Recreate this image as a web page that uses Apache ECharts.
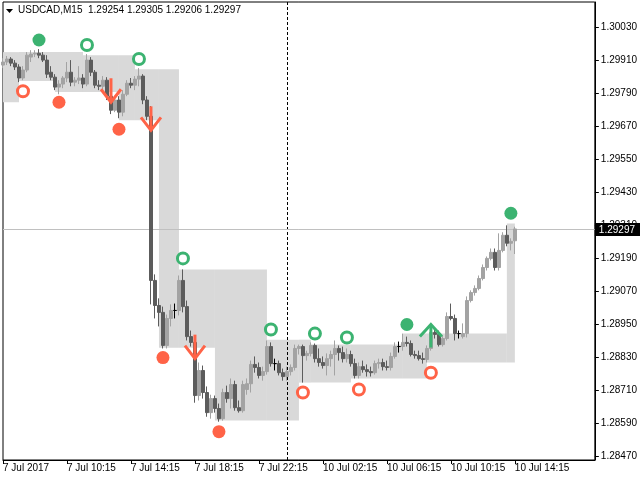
<!DOCTYPE html>
<html><head><meta charset="utf-8">
<script src="https://cdn.jsdelivr.net/npm/echarts@6/dist/echarts.min.js"></script>
<style>html,body{margin:0;padding:0;background:#fff}#c{width:640px;height:480px}</style>
</head><body><div id="c"></div>
<script>
const symbolName = 'USDCAD';
const timeframe = 'M15';
// [open, high, low, close] per M15 bar, 7 Jul 2017 06:15 -> 10 Jul 2017 14:15
const ohlc = [
[1.29892,1.29917,1.29881,1.29903],[1.29903,1.29925,1.29892,1.29914],[1.29914,1.29921,1.29888,1.29899],[1.29899,1.29910,1.29874,1.29885],
[1.29885,1.29895,1.29830,1.29845],[1.29845,1.29888,1.29837,1.29874],[1.29874,1.29939,1.29866,1.29928],[1.29921,1.29946,1.29903,1.29932],
[1.29932,1.29946,1.29921,1.29935],[1.29935,1.29950,1.29917,1.29928],[1.29928,1.29939,1.29903,1.29910],[1.29910,1.29928,1.29845,1.29859],
[1.29866,1.29888,1.29837,1.29848],[1.29848,1.29859,1.29801,1.29812],[1.29812,1.29837,1.29786,1.29823],[1.29823,1.29852,1.29808,1.29845],
[1.29845,1.29903,1.29830,1.29866],[1.29866,1.29910,1.29815,1.29830],[1.29830,1.29848,1.29815,1.29837],[1.29837,1.29888,1.29823,1.29845],
[1.29845,1.29859,1.29808,1.29823],[1.29823,1.29932,1.29815,1.29910],[1.29910,1.29921,1.29852,1.29866],[1.29866,1.29874,1.29808,1.29819],
[1.29819,1.29837,1.29801,1.29815],[1.29815,1.29852,1.29801,1.29837],[1.29837,1.29848,1.29765,1.29779],[1.29779,1.29808,1.29714,1.29728],
[1.29728,1.29772,1.29721,1.29765],[1.29765,1.29779,1.29699,1.29721],[1.29721,1.29801,1.29706,1.29786],[1.29786,1.29837,1.29779,1.29826],
[1.29826,1.29845,1.29808,1.29819],[1.29819,1.29852,1.29801,1.29841],[1.29841,1.29881,1.29815,1.29852],[1.29852,1.29859,1.29750,1.29765],
[1.29765,1.29779,1.29692,1.29706],[1.29706,1.29743,1.29023,1.29110],[1.29110,1.29132,1.28972,1.29019],[1.29019,1.29045,1.28943,1.28994],
[1.28994,1.29015,1.28863,1.28874],[1.28874,1.28986,1.28863,1.28972],[1.28972,1.29023,1.28943,1.29001],[1.29001,1.29026,1.28972,1.29001],
[1.29001,1.29128,1.28983,1.29110],[1.29110,1.29150,1.28994,1.29015],[1.29015,1.29037,1.28892,1.28906],[1.28906,1.28928,1.28870,1.28885],
[1.28885,1.28899,1.28666,1.28692],[1.28692,1.28812,1.28674,1.28783],[1.28783,1.28801,1.28681,1.28703],[1.28703,1.28725,1.28615,1.28630],
[1.28630,1.28695,1.28608,1.28681],[1.28681,1.28692,1.28630,1.28645],[1.28645,1.28663,1.28597,1.28608],[1.28608,1.28717,1.28601,1.28703],
[1.28703,1.28728,1.28666,1.28681],[1.28681,1.28754,1.28645,1.28732],[1.28732,1.28746,1.28637,1.28648],[1.28648,1.28674,1.28630,1.28637],
[1.28637,1.28746,1.28630,1.28732],[1.28714,1.28754,1.28695,1.28735],[1.28735,1.28819,1.28703,1.28805],[1.28805,1.28834,1.28775,1.28794],
[1.28794,1.28812,1.28754,1.28765],[1.28765,1.28797,1.28746,1.28779],[1.28779,1.28892,1.28768,1.28870],[1.28870,1.28885,1.28797,1.28808],
[1.28808,1.28826,1.28783,1.28808],[1.28808,1.28819,1.28765,1.28775],[1.28775,1.28790,1.28746,1.28761],[1.28761,1.28797,1.28746,1.28779],
[1.28779,1.28805,1.28765,1.28794],[1.28794,1.28877,1.28783,1.28863],[1.28863,1.28877,1.28841,1.28870],[1.28870,1.28877,1.28739,1.28837],
[1.28837,1.28855,1.28819,1.28845],[1.28845,1.28885,1.28834,1.28874],[1.28874,1.28881,1.28812,1.28826],[1.28826,1.28863,1.28797,1.28812],
[1.28812,1.28834,1.28790,1.28801],[1.28801,1.28845,1.28765,1.28826],[1.28826,1.28855,1.28797,1.28841],[1.28841,1.28892,1.28765,1.28863],
[1.28863,1.28874,1.28819,1.28848],[1.28848,1.28870,1.28812,1.28826],[1.28826,1.28863,1.28812,1.28841],[1.28841,1.28855,1.28797,1.28808],
[1.28808,1.28826,1.28754,1.28765],[1.28765,1.28812,1.28754,1.28797],[1.28797,1.28819,1.28775,1.28786],[1.28786,1.28805,1.28761,1.28779],
[1.28779,1.28797,1.28761,1.28775],[1.28775,1.28819,1.28768,1.28808],[1.28808,1.28826,1.28790,1.28812],[1.28812,1.28826,1.28783,1.28797],
[1.28797,1.28819,1.28783,1.28794],[1.28794,1.28848,1.28783,1.28834],[1.28834,1.28885,1.28826,1.28870],[1.28870,1.28888,1.28848,1.28870],
[1.28870,1.28917,1.28855,1.28885],[1.28885,1.28906,1.28870,1.28881],[1.28881,1.28892,1.28834,1.28841],[1.28841,1.28855,1.28826,1.28837],
[1.28837,1.28855,1.28819,1.28826],[1.28826,1.28848,1.28808,1.28823],[1.28823,1.28874,1.28812,1.28863],[1.28863,1.28935,1.28855,1.28921],
[1.28921,1.28935,1.28899,1.28914],[1.28914,1.28928,1.28870,1.28877],[1.28877,1.28910,1.28870,1.28899],[1.28899,1.28994,1.28892,1.28979],
[1.28979,1.29026,1.28965,1.28972],[1.28972,1.28986,1.28892,1.28917],[1.28917,1.28928,1.28899,1.28917],[1.28906,1.28954,1.28899,1.28917],
[1.28917,1.29052,1.28903,1.29037],[1.29037,1.29074,1.29030,1.29066],[1.29066,1.29092,1.29055,1.29081],[1.29081,1.29128,1.29074,1.29117],
[1.29117,1.29168,1.29110,1.29157],[1.29157,1.29197,1.29146,1.29190],[1.29190,1.29226,1.29183,1.29212],[1.29212,1.29226,1.29146,1.29157],
[1.29157,1.29281,1.29146,1.29219],[1.29219,1.29285,1.29212,1.29274],[1.29274,1.29310,1.29234,1.29245],[1.29245,1.29263,1.29219,1.29252],
[1.29254,1.29305,1.29206,1.29297]
];
const totalSlots = 149;           // bars + empty chart shift on the right
const tickBars = [0,16,32,48,64,80,96,112,128];
const tickLabels = ['7 Jul 2017','7 Jul 10:15','7 Jul 14:15','7 Jul 18:15','7 Jul 22:15','10 Jul 02:15','10 Jul 06:15','10 Jul 10:15','10 Jul 14:15'];
const yTicks = [1.28470,1.28590,1.28710,1.28830,1.28950,1.29070,1.29190,1.29310,1.29430,1.29550,1.29670,1.29790,1.29910,1.30030];
const yMin = 1.28458, yMax = 1.30121;
const separatorBar = 71;          // 10 Jul 00:00
// zones: [fromBar, toBar, top, bottom]
const zones = [
[0,4,1.29939,1.29757],[4,13,1.29939,1.29834],[13,20,1.29939,1.29794],[20,29,1.29928,1.29794],
[29,33,1.29928,1.29692],[33,39,1.29877,1.29692],[39,44,1.29877,1.28866],[44,53,1.29150,1.28866],
[53,66,1.29150,1.28601],[66,74,1.28895,1.28601],[74,77,1.28895,1.28739],[77,87,1.28877,1.28739],
[87,100,1.28877,1.28754],[100,106,1.28917,1.28754],[106,126,1.28917,1.28812],[126,128,1.29317,1.28812]
];
const greenDots = [[9,1.29983],[101,1.28950],[127,1.29354]];
const greenRings = [[21,1.29965],[34,1.29914],[45,1.29190],[67,1.28932],[78,1.28917],[86,1.28903]];
const redDots = [[14,1.29757],[29,1.29659],[40,1.28830],[54,1.28561]];
const redRings = [[5,1.29797],[75,1.28703],[89,1.28714],[107,1.28775]];
const sellArrows = [[27,1.29757],[37,1.29655],[48,1.28826]];
const buyArrows = [[107,1.28950]];

const FONT = "'Liberation Sans', Arial, sans-serif";
const GREEN = '#3cb371', RED = '#ff6347';
const last = ohlc[ohlc.length - 1];
const lastClose = last[3];

const categories = Array.from({length: totalSlots}, (_, i) => String(i));
const tickSet = new Set(tickBars);
const candleData = ohlc.map(([o,h,l,c]) => [o,c,l,h]);

function arrowItem(dir) {
  return function (params, api) {
    const p = api.coord([api.value(0), api.value(1)]);
    const x = p[0], y = p[1];
    const s = { stroke: dir < 0 ? RED : GREEN, lineWidth: 3, fill: null, lineJoin: 'miter' };
    const stem = dir < 0 ? [[x, y - 24], [x, y - 1]] : [[x, y + 1], [x, y + 23]];
    const head = dir < 0 ? [[x - 10, y - 13], [x, y], [x + 10, y - 13]] : [[x - 11, y + 12], [x, y], [x + 11, y + 12]];
    return { type: 'group', children: [
      { type: 'polyline', shape: { points: stem }, style: s },
      { type: 'polyline', shape: { points: head }, style: s }
    ]};
  };
}

const chart = echarts.init(document.getElementById('c'), null, { renderer: 'canvas' });
chart.setOption({
  animation: false,
  backgroundColor: '#fff',
  grid: { left: 2, right: 43, top: 2, bottom: 20, show: true, borderColor: '#000', borderWidth: 1, backgroundColor: 'transparent' },
  xAxis: {
    type: 'category', data: categories, boundaryGap: false,
    axisLine: { show: true, lineStyle: { color: '#000' } },
    axisTick: { show: true, length: 4, lineStyle: { color: '#000' }, interval: (i) => tickSet.has(i) },
    axisLabel: {
      interval: (i) => tickSet.has(i), align: 'left', margin: 3,
      fontFamily: FONT, fontSize: 10, color: '#000',
      formatter: (v) => { const k = tickBars.indexOf(Number(v)); return k >= 0 ? tickLabels[k] : ''; }
    },
    splitLine: { show: false }
  },
  yAxis: {
    type: 'value', position: 'right', min: yMin, max: yMax, scale: true,
    axisLine: { show: true, lineStyle: { color: '#000' } },
    axisTick: { show: true, inside: false, length: 4, lineStyle: { color: '#000' }, customValues: yTicks },
    axisLabel: { customValues: yTicks, margin: 6, fontFamily: FONT, fontSize: 10, color: '#000', formatter: (v) => v.toFixed(5) },
    splitLine: { show: false }
  },
  graphic: [
    { type: 'polygon', shape: { points: [[6, 9], [13, 9], [9.5, 13]] }, style: { fill: '#000' }, z: 100 },
    { type: 'text', left: 18, top: 5, z: 100,
      style: { text: symbolName + ',' + timeframe + '  ' + last.map(v => v.toFixed(5)).join(' '), font: '10px ' + FONT, fill: '#000' } }
  ],
  series: [
    {
      type: 'custom', name: 'zones', z: 1, silent: true, clip: true,
      data: zones, encode: { x: [0, 1], y: [2, 3] },
      renderItem: (params, api) => {
        const p0 = api.coord([api.value(0), api.value(2)]);
        const p1 = api.coord([api.value(1), api.value(3)]);
        return { type: 'rect', shape: { x: p0[0], y: p0[1], width: p1[0] - p0[0], height: p1[1] - p0[1] }, style: { fill: '#d9d9d9' } };
      }
    },
    {
      type: 'custom', name: 'separator', z: 2, silent: true,
      data: [[separatorBar, yMin]], encode: { x: 0, y: 1 },
      renderItem: (params, api) => {
        const x = Math.round(api.coord([api.value(0), yMin])[0]) + 0.5;
        const cs = params.coordSys;
        return { type: 'line', shape: { x1: x, y1: cs.y, x2: x, y2: cs.y + cs.height }, style: { stroke: '#000', lineWidth: 1, lineDash: [3, 2] } };
      }
    },
    {
      type: 'custom', name: 'price', z: 2, silent: true, clip: false,
      data: [[ohlc.length - 1, lastClose]], encode: { x: 0, y: 1 },
      renderItem: (params, api) => {
        const y = Math.round(api.coord([api.value(0), api.value(1)])[1]) + 0.5;
        const cs = params.coordSys;
        return { type: 'line', shape: { x1: cs.x, y1: y, x2: cs.x + cs.width, y2: y }, style: { stroke: '#c0c0c0', lineWidth: 1 } };
      }
    },
    {
      type: 'custom', name: 'priceLabel', z: 20, silent: true, clip: false,
      data: [[ohlc.length - 1, lastClose]], encode: { x: 0, y: 1 },
      renderItem: (params, api) => {
        const y = Math.round(api.coord([api.value(0), api.value(1)])[1]);
        const cs = params.coordSys;
        const x0 = cs.x + cs.width;
        return { type: 'group', children: [
          { type: 'rect', shape: { x: x0, y: y - 6, width: 640 - x0, height: 13 }, style: { fill: '#000' } },
          { type: 'text', x: x0 + 4, y: y + 1, style: { text: api.value(1).toFixed(5), fill: '#fff', font: '10px ' + FONT, verticalAlign: 'middle', align: 'left' } }
        ]};
      }
    },
    {
      type: 'candlestick', name: symbolName, z: 3, data: candleData, barWidth: 3,
      itemStyle: { color: '#a3a3a3', color0: '#5c5c5c', borderColor: '#a3a3a3', borderColor0: '#5c5c5c', borderColorDoji: '#000', borderWidth: 1, opacity: 1 },
      emphasis: { disabled: true }
    },
    { type: 'scatter', z: 5, data: greenDots, symbol: 'circle', symbolSize: 13, itemStyle: { color: GREEN, opacity: 1 }, silent: true },
    { type: 'scatter', z: 5, data: redDots, symbol: 'circle', symbolSize: 13, itemStyle: { color: RED, opacity: 1 }, silent: true },
    { type: 'scatter', z: 5, data: greenRings, symbol: 'circle', symbolSize: 11, itemStyle: { color: 'rgba(255,255,255,0)', borderColor: GREEN, borderWidth: 3, opacity: 1 }, silent: true },
    { type: 'scatter', z: 5, data: redRings, symbol: 'circle', symbolSize: 11, itemStyle: { color: 'rgba(255,255,255,0)', borderColor: RED, borderWidth: 3, opacity: 1 }, silent: true },
    { type: 'custom', z: 6, silent: true, data: sellArrows, encode: { x: 0, y: 1 }, renderItem: arrowItem(-1) },
    { type: 'custom', z: 6, silent: true, data: buyArrows, encode: { x: 0, y: 1 }, renderItem: arrowItem(1) }
  ]
});
</script>
</body></html>
